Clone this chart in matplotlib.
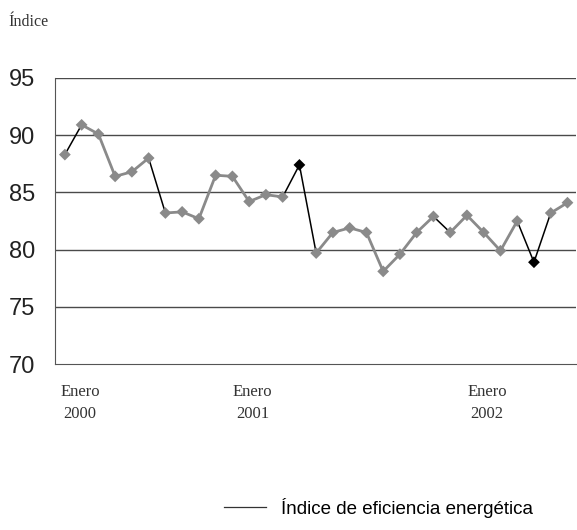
import matplotlib
matplotlib.use("Agg")
import matplotlib.pyplot as plt
from matplotlib.lines import Line2D

# monthly index, Jan 2000 .. Jul 2002
months = list(range(31))
indice = [88.3, 90.9, 90.1, 86.4, 86.8, 88.0, 83.2, 83.3, 82.7, 86.5, 86.4, 84.2,
          84.8, 84.6, 87.4, 79.7, 81.5, 81.9, 81.5, 78.1, 79.6, 81.5, 82.9, 81.5,
          83.0, 81.5, 79.9, 82.5, 78.9, 83.2, 84.1]
tick_pos = [0.9, 11.2, 25.2]
tick_labels = ["Enero\n2000", "Enero\n2001", "Enero\n2002"]
yticks = [70, 75, 80, 85, 90, 95]

# highlighted points (black markers) and dark segments (start index)
black_pts = [14, 28]
black_segs = [0, 5, 13, 14, 22, 27, 28]

fig = plt.figure(figsize=(5.77, 5.30), dpi=100)
ax = fig.add_axes([0.095, 0.313, 0.903, 0.54])

for y in yticks[1:]:
    ax.axhline(y, color="#4a4a4a", lw=1.0, zorder=1)

for i in range(len(months) - 1):
    if i in black_segs:
        ax.plot(months[i:i + 2], indice[i:i + 2], color="black", lw=1.1, zorder=2)
    else:
        ax.plot(months[i:i + 2], indice[i:i + 2], color="#8a8a8a", lw=2.0, zorder=2)

mcol = ["black" if i in black_pts else "#8a8a8a" for i in months]
ax.scatter(months, indice, marker="D", s=36, c=mcol, edgecolors="none", zorder=3)

ax.set_xlim(-0.6, 30.5)
ax.set_ylim(70, 95)
ax.set_yticks(yticks)
ax.set_yticklabels([str(v) for v in yticks], fontsize=17, family="Liberation Sans",
                   color="#222222")
ax.set_xticks(tick_pos)
ax.set_xticklabels(tick_labels, fontsize=12, family="Liberation Serif",
                   color="#333333", linespacing=1.55)
ax.tick_params(axis="both", length=0)
ax.tick_params(axis="y", pad=14)
ax.tick_params(axis="x", pad=14)

for s in ["top", "right"]:
    ax.spines[s].set_visible(False)
ax.spines["left"].set_color("#555555")
ax.spines["bottom"].set_color("#555555")

fig.text(0.014, 0.958, "Índice", fontsize=11.5, family="Liberation Serif",
         color="#333333", va="center")

handle = Line2D([], [], color="#333333", lw=0.9)
fig.legend([handle], ["Índice de eficiencia energética"], loc="center",
           bbox_to_anchor=(0.656, 0.042), frameon=False, handlelength=2.2,
           prop={"family": "Liberation Sans", "size": 13.5})

fig.savefig("out.png", dpi=100)
